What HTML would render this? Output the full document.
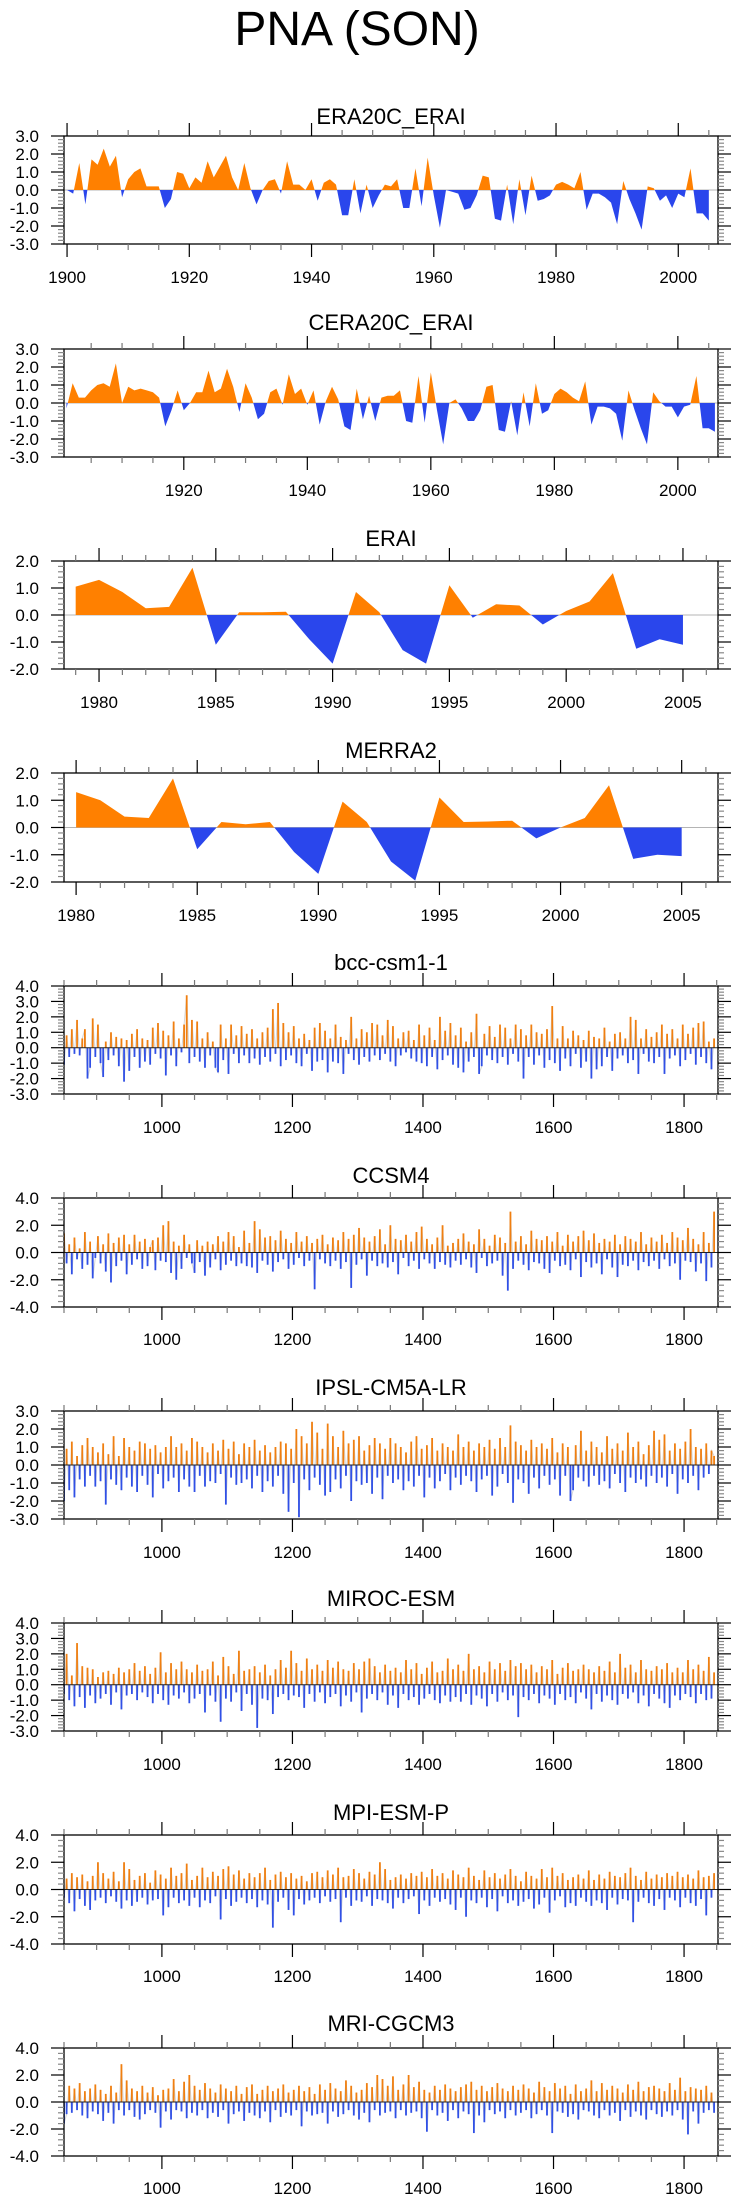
<!DOCTYPE html>
<html><head><meta charset="utf-8"><style>
html,body{margin:0;padding:0;background:#fff;}
svg{display:block;font-family:"Liberation Sans",Arial,sans-serif;}
</style></head><body>
<svg id="fig" width="736" height="2204" viewBox="0 0 736 2204">
<text x="357" y="45" font-size="48" text-anchor="middle">PNA (SON)</text>
</svg>
<script>
// ===== Data =====
const era20cStart = 1900;
const era20cVals = [0,-0.2,1.5,-0.8,1.7,1.4,2.3,1.3,1.9,-0.4,0.6,1.0,1.2,0.2,0.2,0.2,-1.0,-0.5,1.0,0.9,0.1,0.7,0.4,1.6,0.7,1.3,1.9,0.7,0.0,1.5,0.1,-0.8,0.0,0.5,0.6,-0.2,1.6,0.3,0.3,0.0,0.6,-0.6,0.4,0.6,0.3,-1.4,-1.4,0.6,-1.3,0.3,-1.0,-0.3,0.3,0.2,0.6,-1.0,-1.0,1.2,-0.9,1.8,-0.3,-2.1,0.0,-0.1,-0.2,-1.1,-1.0,-0.3,0.8,0.7,-1.6,-1.7,0.3,-1.9,0.6,-1.4,0.8,-0.6,-0.5,-0.3,0.3,0.45,0.3,0.1,1.0,-1.1,-0.2,-0.2,-0.4,-0.7,-1.9,0.5,-0.5,-1.3,-2.2,0.2,0.1,-0.6,-0.3,-1.0,-0.2,-0.4,1.2,-1.3,-1.3,-1.7];
const cera20cStart = 1901;
const cera20cVals = [-0.3,1.1,0.3,0.3,0.7,1.0,1.1,0.9,2.2,0.0,0.9,0.7,0.8,0.7,0.6,0.3,-1.3,-0.4,0.7,-0.4,0.0,0.6,0.6,1.8,0.6,0.8,1.9,0.9,-0.5,1.1,0.3,-0.9,-0.6,0.6,0.8,-0.1,1.6,0.5,0.8,-0.1,0.7,-1.2,0.1,0.9,0.2,-1.3,-1.5,0.8,-0.9,0.4,-1.0,0.3,0.4,0.4,0.7,-1.0,-1.1,1.5,-1.1,1.7,-0.4,-2.3,0.0,0.2,-0.3,-1.0,-1.0,-0.4,0.9,1.0,-1.5,-1.6,0.1,-1.8,0.6,-1.3,1.1,-0.6,-0.4,0.5,0.8,0.6,0.3,0.1,1.2,-1.2,-0.2,-0.2,-0.3,-0.6,-2.1,0.7,-0.4,-1.4,-2.3,0.6,0.1,-0.2,-0.2,-0.8,-0.2,-0.1,1.5,-1.4,-1.4,-1.6];
const eraiStart = 1979;
const eraiVals = [1.05,1.3,0.85,0.25,0.3,1.75,-1.1,0.1,0.1,0.12,-0.9,-1.8,0.85,0.1,-1.3,-1.8,1.1,-0.1,0.4,0.35,-0.35,0.15,0.5,1.55,-1.25,-0.9,-1.1];
const merraStart = 1980;
const merraVals = [1.3,1.0,0.4,0.35,1.8,-0.8,0.2,0.12,0.2,-0.9,-1.7,0.95,0.2,-1.25,-1.95,1.1,0.2,0.22,0.25,-0.4,0.0,0.35,1.55,-1.15,-1.0,-1.05];
const modelStart = 850;
const modelStep = 4;
const bccVals = [-1.1,0.8,-0.6,1.2,-0.4,1.8,-0.5,0.6,1.2,-2.0,-1.3,1.9,-0.6,1.5,-1.0,-1.9,0.4,-0.8,1.0,-0.5,0.7,-1.2,0.6,-2.2,0.5,
-1.5,0.9,-0.6,1.2,-1.3,0.6,-0.9,0.5,-1.1,1.3,-0.4,1.6,-0.7,1.1,-1.8,0.8,-0.5,1.7,-1.2,0.6,-0.3,1.5,3.4,-1.0,1.8,
-0.6,1.7,-0.9,0.6,-1.3,1.0,-0.5,0.4,-1.3,-1.6,1.5,-0.8,0.6,-1.7,1.5,-0.4,0.8,-1.0,1.4,-0.5,0.9,-1.0,1.2,-0.7,0.6,
-1.1,1.0,-0.6,1.3,-0.9,2.5,-0.4,2.9,-1.2,1.6,-0.8,1.0,-0.5,1.4,-1.0,0.6,-1.2,0.9,-0.4,0.5,-1.5,1.3,-0.9,1.6,-0.8,
1.1,-1.6,0.6,-0.9,1.5,-1.0,0.7,-1.7,0.5,-0.4,2.0,-0.8,0.6,-1.1,1.2,-0.6,1.0,-0.9,1.6,-0.5,1.5,-0.8,0.8,-0.4,1.8,
-0.9,1.4,-1.2,0.6,-0.5,1.0,-0.3,1.1,-0.7,0.5,-0.9,1.5,-1.0,0.8,-1.2,1.3,-0.6,0.5,-1.4,2.0,-0.8,1.1,-0.5,1.6,-1.1,
0.8,-1.3,1.3,-1.6,0.4,-0.9,1.0,-0.6,2.2,-1.7,-1.2,0.9,-0.5,1.4,-0.8,0.7,-1.0,1.5,-0.6,1.3,-1.1,0.6,-0.4,1.5,-0.9,
1.2,-2.0,0.8,-0.6,1.5,-1.1,1.0,-0.5,0.9,-1.3,1.2,-0.8,2.7,-1.0,0.6,-1.5,1.4,-0.7,0.6,-1.2,1.1,-0.4,0.8,-1.3,0.5,
-0.9,1.1,-2.0,0.7,-1.4,0.6,-1.2,1.3,-0.6,0.4,-1.5,0.9,-0.7,1.0,-0.5,0.6,-1.0,2.0,-0.8,1.8,-1.7,0.6,-0.4,1.2,-0.9,
0.7,-1.0,1.0,-0.6,1.5,-1.7,0.9,-0.7,1.2,-0.5,0.6,-1.2,1.5,-0.8,0.9,-0.4,1.3,-1.1,1.6,-0.6,1.7,-1.0,0.4,-1.4,0.6];
const ccsmVals = [1.4,-0.8,0.6,-1.6,1.1,-0.5,0.3,-1.2,1.5,-0.9,0.8,-1.9,-0.4,1.2,-0.8,0.6,-1.4,1.4,-2.2,0.7,-1.0,1.1,-0.6,1.3,-1.6,
0.6,-0.9,1.3,-0.5,0.8,-1.2,1.0,-1.0,0.4,0.9,-1.3,1.1,-0.6,2.0,-0.7,2.3,-1.5,0.8,-2.0,0.5,-1.2,1.3,-0.4,0.6,-0.8,
-1.5,0.9,-0.7,0.5,-1.7,0.8,-1.1,0.6,-0.5,1.2,-1.3,0.8,-0.9,1.5,-0.6,1.2,-1.0,0.4,-0.8,1.6,-1.0,0.7,-1.1,2.3,-1.5,
1.7,-0.6,1.1,-0.9,1.2,-1.4,0.9,-0.7,1.6,-0.5,1.0,-1.2,0.7,-0.9,1.5,-0.4,0.8,-1.0,1.2,-0.6,0.7,-2.7,1.0,-0.5,1.3,
-0.8,0.6,-1.0,1.1,-0.6,0.9,-1.2,1.5,-0.7,1.0,-2.6,1.3,-0.9,1.8,-0.5,1.1,-1.7,0.8,-0.6,1.2,-1.0,1.7,-0.8,0.6,-1.1,
2.0,-0.7,1.0,-1.6,0.9,-0.4,1.3,-1.0,0.8,-0.6,1.5,-1.2,1.9,-0.5,1.0,-0.8,0.6,-1.2,1.1,-0.7,2.0,-0.9,0.5,-1.1,0.7,
-0.6,1.0,-0.9,1.4,-0.5,0.8,-1.1,0.6,-1.5,1.7,-0.4,1.0,-1.0,0.5,-0.8,1.3,-0.6,1.1,-1.7,0.7,-2.8,3.0,-1.2,0.8,-0.6,
1.2,-0.9,0.6,-1.3,1.6,-0.7,1.0,-0.8,0.9,-1.2,1.2,-1.5,0.8,-0.6,1.5,-1.0,0.5,-0.9,1.3,-1.3,0.8,-0.5,1.2,-1.8,1.6,
-0.7,0.9,-1.1,1.4,-0.8,0.7,-1.6,1.0,-0.5,0.8,-1.1,1.3,-1.8,0.6,-0.9,1.2,-1.0,1.0,-0.6,0.8,-1.3,1.5,-0.7,0.6,-1.0,
1.1,-0.6,0.8,-1.2,1.3,-0.5,0.7,-1.0,1.5,-0.8,1.1,-2.0,0.9,-0.6,1.8,-0.7,1.0,-1.4,0.6,-0.8,1.5,-2.1,0.7,-1.1,3.0];
const ipslVals = [-2.0,0.9,-1.4,1.3,-1.8,0.5,-0.8,1.1,-1.2,1.5,-0.6,1.0,-1.2,0.7,-0.9,1.2,-2.2,0.6,-0.8,1.6,-1.1,0.5,-1.4,1.5,-0.7,
1.0,-1.2,0.8,-1.5,1.3,-0.6,1.2,-1.1,0.9,-1.8,1.1,-0.5,0.7,-1.3,1.0,-0.9,1.6,-0.7,1.0,-1.5,1.2,-0.8,0.8,-1.2,1.5,
-1.5,1.3,-0.6,1.0,-1.2,0.7,-0.9,1.2,-1.0,0.8,-0.5,1.4,-2.2,0.9,-0.7,1.3,-1.1,0.6,-1.0,1.2,-0.8,1.0,-1.3,1.4,-0.6,
0.8,-1.5,1.1,-0.9,0.7,-1.2,1.0,-0.6,1.3,-1.6,1.2,-2.6,0.9,-1.0,2.0,-2.9,1.6,-0.8,1.2,-1.4,2.4,-0.7,1.8,-1.1,0.9,
-1.7,2.3,-1.5,1.6,-0.8,1.0,-1.3,1.9,-0.6,1.2,-2.0,1.4,-0.9,1.6,-1.1,0.8,-1.0,1.1,-1.6,1.5,-0.7,1.2,-1.9,0.9,-0.6,
1.5,-1.0,1.2,-0.8,1.0,-1.4,0.7,-0.9,1.3,-1.2,1.6,-0.6,0.9,-1.8,1.1,-0.7,1.5,-1.3,0.8,-0.9,1.2,-0.5,1.0,-1.4,0.8,
-0.7,1.7,-1.1,1.0,-0.6,1.3,-0.9,0.8,-1.5,1.2,-0.8,1.0,-0.6,1.4,-1.7,0.9,-1.2,1.5,-0.5,1.0,-1.0,2.2,-2.1,1.3,-0.8,
1.1,-1.0,0.8,-1.6,1.4,-0.7,1.0,-1.3,1.2,-0.6,0.9,-1.1,1.5,-0.8,0.7,-1.7,1.2,-0.6,1.0,-2.0,-1.4,1.1,-0.7,1.9,-0.9,
0.8,-1.2,1.3,-0.6,1.0,-1.1,0.7,-0.9,1.6,-1.3,0.9,-0.5,1.2,-1.0,0.8,-1.5,1.8,-0.7,1.0,-1.0,1.3,-0.8,0.6,-1.2,1.1,
-0.6,1.9,-1.0,1.4,-0.7,1.7,-1.2,0.8,-0.5,1.2,-1.6,0.9,-0.8,1.3,-1.0,2.0,-0.6,1.0,-1.4,0.9,-0.7,1.2,-0.5,0.8,0.5];
const mirocVals = [-0.6,2.0,-1.0,0.6,-1.4,2.7,-0.8,1.2,-1.5,1.1,-0.7,1.0,-1.2,0.5,-0.9,0.8,-0.6,0.9,-1.3,0.7,-0.5,1.1,-1.6,0.8,-0.7,
1.0,-0.6,1.4,-1.0,0.9,-0.5,1.2,-0.8,0.7,-1.2,1.1,-0.6,2.1,-1.0,0.8,-1.3,1.4,-0.7,1.0,-0.9,1.5,-0.5,1.0,-1.2,0.8,
-0.9,1.3,-0.6,0.9,-1.8,1.0,-0.7,1.5,-1.1,0.6,-2.4,1.8,-0.9,1.2,-1.1,0.7,-0.5,2.2,-1.7,0.9,-0.6,1.0,-1.3,1.2,-2.8,
0.8,-0.9,1.3,-1.0,0.6,-1.9,1.0,-0.8,1.6,-0.6,1.1,-1.0,2.2,-0.7,1.4,-0.8,0.9,-1.5,1.7,-0.6,1.0,-1.1,1.3,-0.5,0.9,
-1.2,1.6,-0.8,1.1,-0.6,1.5,-1.4,1.0,-0.7,0.9,-1.1,1.4,-0.5,1.0,-1.8,1.5,-0.9,1.7,-0.6,1.2,-1.0,0.8,-0.5,1.3,-1.3,
0.9,-0.7,1.1,-1.5,0.8,-0.6,1.6,-1.0,1.0,-0.8,1.4,-1.3,0.7,-0.9,1.1,-0.6,1.5,-1.0,0.8,-1.2,0.9,-0.7,1.7,-1.1,1.0,
-0.8,1.3,-1.1,0.9,-0.6,2.0,-1.3,1.0,-0.7,1.2,-0.9,0.8,-1.4,1.5,-0.6,1.0,-1.1,1.4,-0.5,0.9,-1.0,1.6,-0.7,1.2,-2.1,
1.4,-0.8,1.0,-1.0,1.3,-0.6,0.8,-1.2,1.2,-0.7,1.0,-0.9,1.6,-1.3,0.7,-0.6,1.1,-1.0,1.4,-0.8,0.9,-1.2,1.0,-0.5,1.3,
-0.9,1.0,-1.6,0.8,-0.6,1.2,-1.1,0.9,-0.7,1.5,-1.0,0.8,-1.3,2.0,-0.6,1.1,-0.9,1.3,-0.5,0.8,-1.2,1.6,-0.7,1.0,-1.4,
0.9,-0.6,1.2,-0.9,1.0,-1.2,1.4,-1.5,0.8,-0.7,1.1,-1.0,0.8,-0.6,1.6,-0.8,1.0,-1.2,1.3,-0.6,0.9,-1.0,1.8,-0.9,0.8];
const mpiVals = [-0.6,0.8,-1.0,1.2,-1.6,0.9,-0.7,1.1,-1.2,0.6,-1.5,1.0,-0.8,2.0,-0.6,1.2,-1.0,0.8,-0.5,1.3,-0.9,0.6,-1.4,2.0,-0.8,
1.5,-1.2,0.7,-0.9,1.0,-0.6,1.2,-1.1,0.5,-0.8,1.4,-0.7,1.1,-1.9,0.8,-1.3,1.6,-0.6,1.0,-1.0,1.2,-0.8,1.9,-1.2,0.7,
-0.6,1.0,-1.3,1.6,-0.8,0.9,-1.0,1.3,-0.5,1.0,-2.2,1.5,-0.7,1.7,-1.2,1.1,-0.9,1.4,-0.6,0.8,-1.0,1.2,-0.7,0.9,-1.3,
1.2,-0.8,1.6,-1.1,0.7,-2.8,1.1,-0.9,1.3,-0.6,0.9,-1.5,1.2,-1.9,0.8,-0.7,1.0,-1.1,0.6,-0.8,1.2,-0.6,1.3,-1.0,0.9,
-0.5,1.4,-0.9,1.1,-0.7,1.6,-2.4,0.9,-0.6,1.0,-1.2,1.5,-0.8,1.2,-0.9,0.8,-0.5,1.3,-1.2,1.1,-0.7,2.0,-0.8,1.5,-1.0,
0.7,-1.4,0.9,-0.6,1.1,-1.0,0.8,-0.7,1.2,-0.5,1.0,-1.8,1.3,-0.8,0.9,-1.2,1.5,-0.6,1.0,-0.9,1.2,-0.7,0.8,-1.1,1.4,
-1.5,1.1,-0.6,0.9,-2.0,1.6,-0.8,1.0,-1.0,0.7,-0.6,1.4,-1.3,0.9,-0.7,1.2,-1.6,0.8,-0.5,1.1,-1.0,1.5,-0.8,1.0,-1.2,
0.6,-0.9,1.3,-0.7,1.0,-1.4,0.8,-1.1,1.5,-0.6,0.9,-1.7,1.6,-0.8,1.0,-0.5,1.2,-1.3,0.7,-1.0,0.9,-1.2,1.1,-0.6,0.8,
-0.9,1.4,-1.2,0.7,-0.8,1.1,-1.0,0.8,-1.5,1.3,-0.6,1.0,-1.1,0.9,-0.7,1.2,-0.8,1.6,-2.4,1.0,-0.9,0.7,-0.6,1.3,-1.0,
0.8,-1.2,1.1,-0.7,0.9,-1.5,1.2,-0.6,1.0,-0.8,1.3,-1.3,0.9,-0.6,1.1,-1.0,0.8,-1.2,1.4,-0.7,0.9,-1.9,1.0,-0.6,1.2];
const mriVals = [-1.6,-0.9,1.2,-0.8,1.0,-0.6,1.4,-1.0,0.8,-1.2,1.0,-0.7,1.3,-0.9,0.9,-1.4,0.6,-0.8,1.2,-1.6,0.7,-0.6,2.8,-1.0,1.6,
-0.6,1.0,-1.1,0.8,-1.3,1.2,-0.9,0.7,-0.6,1.1,-0.8,0.5,-1.9,0.9,-0.7,1.0,-1.3,1.7,-0.6,0.8,-0.7,1.5,-1.2,2.0,-0.8,
1.2,-1.0,0.9,-0.6,1.4,-1.2,1.0,-0.8,0.7,-1.1,1.3,-0.6,1.0,-1.6,0.8,-0.9,1.2,-0.7,0.6,-1.4,1.1,-0.8,1.3,-1.0,0.6,
-1.2,0.9,-0.7,1.2,-1.5,0.8,-0.6,1.0,-1.1,1.3,-0.8,0.7,-1.0,0.9,-0.6,1.2,-1.8,0.8,-0.7,1.1,-1.0,0.6,-0.9,1.3,-0.8,
0.9,-1.6,1.4,-0.7,1.0,-1.1,0.8,-0.9,1.6,-0.6,1.2,-1.0,0.7,-1.3,0.9,-0.8,1.4,-1.5,1.1,-0.6,2.0,-1.0,1.7,-0.8,1.2,
-0.7,1.9,-1.2,0.9,-0.6,1.3,-1.0,2.0,-0.8,1.1,-0.7,1.5,-1.2,0.9,-2.2,0.7,-0.6,1.2,-1.0,0.9,-0.8,1.3,-1.4,1.0,-0.6,
0.8,-1.2,1.1,-0.7,1.3,-0.9,1.5,-2.3,0.9,-1.0,1.2,-1.5,0.8,-0.6,1.1,-0.9,1.4,-0.7,1.0,-1.2,0.8,-0.6,1.2,-1.0,0.9,
-0.8,1.3,-0.6,1.0,-1.2,0.7,-0.9,1.5,-0.6,1.1,-1.0,0.8,-2.3,1.4,-0.7,1.0,-0.8,1.2,-1.1,0.6,-0.9,1.3,-1.3,0.8,-0.6,
1.0,-0.7,1.6,-1.0,0.8,-1.2,1.4,-0.6,0.9,-1.0,1.2,-0.8,1.0,-1.4,0.7,-0.6,1.3,-1.1,0.9,-0.7,1.5,-1.0,0.8,-1.3,1.1,
-0.6,1.2,-0.9,1.0,-1.1,0.8,-0.7,1.4,-1.0,0.9,-0.6,1.8,-1.3,0.8,-2.4,1.1,-0.7,1.0,-1.6,0.9,-0.8,1.2,-0.6,0.7,-0.8];

// ===== Layout (not data) =====
const NS = "http://www.w3.org/2000/svg";
const svg = document.getElementById("fig");
const L = 64, R = 718;
const panels = [
 {key:"era20c", title:"ERA20C_ERAI", titleY:124, top:136, bot:244, xmin:1899.5, xmax:2006.5, ymin:-3, ymax:3, ylab:1, yminor:0.2, xmaj:20, xmaj0:1900, xmin_step:5, labY:283, kind:"area", start:era20cStart, step:1, vals:era20cVals},
 {key:"cera20c", title:"CERA20C_ERAI", titleY:330, top:349, bot:457, xmin:1900.6, xmax:2006.5, ymin:-3, ymax:3, ylab:1, yminor:0.2, xmaj:20, xmaj0:1900, xmin_step:5, labY:496, kind:"area", start:cera20cStart, step:1, vals:cera20cVals},
 {key:"erai", title:"ERAI", titleY:546, top:561, bot:669, xmin:1978.5, xmax:2006.5, ymin:-2, ymax:2, ylab:1, yminor:0.2, xmaj:5, xmaj0:1980, xmin_step:1, labY:708, kind:"area", start:eraiStart, step:1, vals:eraiVals},
 {key:"merra2", title:"MERRA2", titleY:758, top:773, bot:882, xmin:1979.5, xmax:2006.5, ymin:-2, ymax:2, ylab:1, yminor:0.2, xmaj:5, xmaj0:1980, xmin_step:1, labY:921, kind:"area", start:merraStart, step:1, vals:merraVals},
 {key:"bcc", title:"bcc-csm1-1", titleY:970, top:986, bot:1094, xmin:850, xmax:1852, ymin:-3, ymax:4, ylab:1, yminor:0.2, xmaj:200, xmaj0:1000, xmin_step:50, labY:1133, kind:"bar", start:modelStart, step:modelStep, vals:bccVals},
 {key:"ccsm4", title:"CCSM4", titleY:1183, top:1198, bot:1307, xmin:850, xmax:1852, ymin:-4, ymax:4, ylab:2, yminor:0.4, xmaj:200, xmaj0:1000, xmin_step:50, labY:1345, kind:"bar", start:modelStart, step:modelStep, vals:ccsmVals},
 {key:"ipsl", title:"IPSL-CM5A-LR", titleY:1395, top:1411, bot:1519, xmin:850, xmax:1852, ymin:-3, ymax:3, ylab:1, yminor:0.2, xmaj:200, xmaj0:1000, xmin_step:50, labY:1558, kind:"bar", start:modelStart, step:modelStep, vals:ipslVals},
 {key:"miroc", title:"MIROC-ESM", titleY:1606, top:1623, bot:1731, xmin:850, xmax:1852, ymin:-3, ymax:4, ylab:1, yminor:0.2, xmaj:200, xmaj0:1000, xmin_step:50, labY:1770, kind:"bar", start:modelStart, step:modelStep, vals:mirocVals},
 {key:"mpi", title:"MPI-ESM-P", titleY:1820, top:1835, bot:1944, xmin:850, xmax:1852, ymin:-4, ymax:4, ylab:2, yminor:0.4, xmaj:200, xmaj0:1000, xmin_step:50, labY:1982, kind:"bar", start:modelStart, step:modelStep, vals:mpiVals},
 {key:"mri", title:"MRI-CGCM3", titleY:2031, top:2048, bot:2156, xmin:850, xmax:1852, ymin:-4, ymax:4, ylab:2, yminor:0.4, xmaj:200, xmaj0:1000, xmin_step:50, labY:2194, kind:"bar", start:modelStart, step:modelStep, vals:mriVals}
];
function mk(tag, parent){ const e=document.createElementNS(NS,tag); parent.appendChild(e); return e; }
function line(g,x1,y1,x2,y2,stroke,w){ const l=mk("line",g); l.setAttribute("x1",x1);l.setAttribute("y1",y1);l.setAttribute("x2",x2);l.setAttribute("y2",y2);l.setAttribute("stroke",stroke);l.setAttribute("stroke-width",w); return l; }

panels.forEach(p=>{
  const g = mk("g", svg);
  
  
  const X = v => L + (v - p.xmin)/(p.xmax - p.xmin)*(R-L);
  const Y = v => p.bot - (v - p.ymin)/(p.ymax - p.ymin)*(p.bot-p.top);
  const Z = Y(0);
  const t = mk("text", g);
  t.setAttribute("x", (L+R)/2); t.setAttribute("y", p.titleY); t.setAttribute("font-size","22"); t.setAttribute("text-anchor","middle");
  t.textContent = p.title;
  
  
  const cid = "clip-"+p.key;
  const cp = mk("clipPath", g); cp.setAttribute("id", cid);
  const cr = mk("rect", cp); cr.setAttribute("x",L); cr.setAttribute("y",p.top); cr.setAttribute("width",R-L); cr.setAttribute("height",p.bot-p.top);
  const data = mk("g", g); data.setAttribute("clip-path","url(#"+cid+")");
  
  
  const n = p.vals.length;
  if (p.kind === "area") {
    line(data, L, Z, R, Z, "#b4b4b4", 1);
    let pts = X(p.start).toFixed(2)+","+Z+" ";
    for (let i=0;i<n;i++) pts += X(p.start+i*p.step).toFixed(2)+","+Y(p.vals[i]).toFixed(2)+" ";
    pts += X(p.start+(n-1)*p.step).toFixed(2)+","+Z;
    [["pos","#ff8000",p.top,Z-p.top],["neg","#2a46ec",Z,p.bot-Z]].forEach(([nm,col,y0,h])=>{
      const c2 = mk("clipPath", g); c2.setAttribute("id", cid+nm);
      const r2 = mk("rect", c2); r2.setAttribute("x",L); r2.setAttribute("y",y0); r2.setAttribute("width",R-L); r2.setAttribute("height",h);
      const pg = mk("polygon", data);
      pg.setAttribute("points", pts); pg.setAttribute("fill", col); pg.setAttribute("clip-path","url(#"+cid+nm+")");
      
      
    });
  } else {
    let pts = "";
    for (let i=0;i<n;i++) pts += X(p.start+i*p.step).toFixed(2)+","+Y(p.vals[i]).toFixed(2)+" ";
    const pl = mk("polyline", data);
    pl.setAttribute("points", pts); pl.setAttribute("fill","none"); pl.setAttribute("stroke","#d6d6d6"); pl.setAttribute("stroke-width","1");
    
    
    for (let i=0;i<n;i++){
      const v = p.vals[i];
      const b = mk("rect", data);
      const y1 = Y(Math.max(v,0)), y2 = Y(Math.min(v,0));
      b.setAttribute("x", (X(p.start+i*p.step)-0.9).toFixed(2)); b.setAttribute("y", y1.toFixed(2));
      b.setAttribute("width","1.8"); b.setAttribute("height", Math.max(0.5,y2-y1).toFixed(2));
      b.setAttribute("fill", v>=0 ? "#f07f10" : "#3050e6");
      
      
    }
    line(data, L, Z, R, Z, "#222", 1);
  }
  const fr = mk("rect", g);
  fr.setAttribute("x",L); fr.setAttribute("y",p.top); fr.setAttribute("width",R-L); fr.setAttribute("height",p.bot-p.top);
  fr.setAttribute("fill","none"); fr.setAttribute("stroke","#000"); fr.setAttribute("stroke-width","1.3");
  
  
  const xa = mk("g", g);
  
  
  const first = Math.ceil(p.xmin/p.xmin_step)*p.xmin_step;
  for (let v=first; v<=p.xmax+1e-9; v+=p.xmin_step){
    const x = X(v);
    const major = ((v - p.xmaj0) % p.xmaj === 0);
    const len = major ? 13 : 6, col = major ? "#000" : "#777";
    line(xa, x, p.top, x, p.top-len, col, 1.2);
    line(xa, x, p.bot, x, p.bot+len, col, 1.2);
    if (major){
      const tl = mk("text", xa);
      tl.setAttribute("x", x); tl.setAttribute("y", p.labY); tl.setAttribute("font-size","17"); tl.setAttribute("text-anchor","middle");
      tl.textContent = String(v);
      
      
    }
  }
  const ya = mk("g", g);
  
  
  const nMin = Math.round((p.ymax-p.ymin)/p.yminor);
  for (let k=0;k<=nMin;k++){
    const v = p.ymin + k*p.yminor;
    const y = Y(v);
    const isLab = Math.abs(v/p.ylab - Math.round(v/p.ylab)) < 1e-6;
    const len = isLab ? 13 : 6, col = isLab ? "#000" : "#888";
    line(ya, L, y, L-len, y, col, 1.2);
    line(ya, R, y, R+len, y, col, 1.2);
    if (isLab){
      const tl = mk("text", ya);
      tl.setAttribute("x", 39); tl.setAttribute("y", y+6); tl.setAttribute("font-size","17"); tl.setAttribute("text-anchor","end");
      tl.textContent = (Math.abs(v)<1e-9?0:v).toFixed(1);
      
      
    }
  }
});
</script>
</body></html>
